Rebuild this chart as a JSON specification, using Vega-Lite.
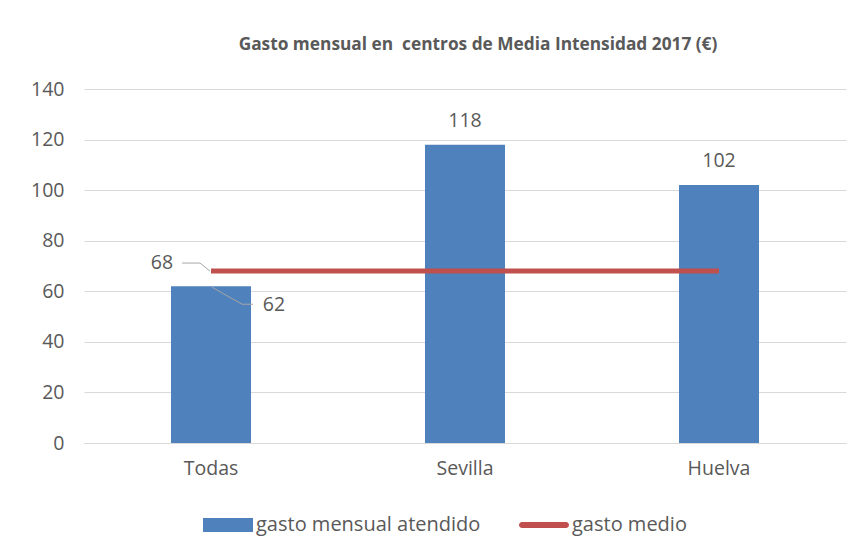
{
  "$schema": "https://vega.github.io/schema/vega-lite/v6.json",
  "autosize": "none",
  "width": 762,
  "height": 354,
  "padding": {"left": 84, "top": 89, "right": 17, "bottom": 111},
  "background": "white",
  "title": {
    "text": "Gasto mensual en \u00a0centros de Media Intensidad 2017 (€)",
    "font": "Open Sans",
    "fontSize": 17.3,
    "fontWeight": "bold",
    "color": "#595959",
    "anchor": "middle",
    "offset": 26,
    "dx": 13
  },
  "config": {
    "view": {"stroke": null},
    "font": "Open Sans",
    "axis": {
      "labelFont": "Open Sans",
      "labelFontSize": 19.5,
      "labelColor": "#595959",
      "gridColor": "#D9D9D9",
      "gridWidth": 1,
      "domain": false,
      "ticks": false,
      "title": null
    },
    "legend": {
      "labelFont": "Open Sans",
      "labelFontSize": 20,
      "labelColor": "#595959",
      "labelLimit": 0
    }
  },
  "data": {
    "values": [
      {"cat": "Todas", "gasto": 62, "medio": 68},
      {"cat": "Sevilla", "gasto": 118, "medio": 68},
      {"cat": "Huelva", "gasto": 102, "medio": 68}
    ]
  },
  "encoding": {
    "x": {
      "field": "cat",
      "type": "nominal",
      "sort": ["Todas", "Sevilla", "Huelva"],
      "scale": {"paddingInner": 0.685, "paddingOuter": 0.3425},
      "axis": {"labelAngle": 0, "labelPadding": 16, "grid": false, "domain": true, "domainColor": "#D9D9D9", "domainWidth": 1}
    }
  },
  "layer": [
    {
      "mark": {"type": "bar"},
      "encoding": {
        "y": {
          "field": "gasto",
          "type": "quantitative",
          "scale": {"domain": [0, 140], "nice": false},
          "axis": {"values": [0, 20, 40, 60, 80, 100, 120, 140], "labelPadding": 20, "grid": true}
        },
        "color": {
          "datum": "gasto mensual atendido",
          "type": "nominal",
          "scale": {"domain": ["gasto mensual atendido", "gasto medio"], "range": ["#4F81BD", "#C0504D"]},
          "legend": {
            "orient": "none",
            "legendX": 119,
            "legendY": 411,
            "direction": "horizontal",
            "title": null,
            "padding": 0,
            "symbolSize": 2500,
            "symbolStrokeWidth": 0,
            "labelOffset": 3,
            "columnPadding": 38,
            "symbolType": "M-1,-0.28H1V0.28H-1Z",
            "encode": {
              "symbols": {
                "update": {
                  "shape": {"signal": "datum.value === 'gasto medio' ? 'M-0.88,-0.12H0.88A0.12,0.12,0,0,1,0.88,0.12H-0.88A0.12,0.12,0,0,1,-0.88,-0.12Z' : 'M-1,-0.28H1V0.28H-1Z'"},
                  "fill": {"signal": "datum.value === 'gasto medio' ? '#C0504D' : '#4F81BD'"},
                  "stroke": {"value": "transparent"},
                  "opacity": {"value": 1},
                  "fillOpacity": {"value": 1}
                }
              }
            }
          }
        }
      }
    },
    {
      "mark": {"type": "line", "strokeWidth": 5},
      "encoding": {
        "y": {"field": "medio", "type": "quantitative"},
        "color": {"datum": "gasto medio", "type": "nominal"}
      }
    },
    {
      "transform": [{"filter": "datum.cat !== 'Todas'"}],
      "mark": {"type": "text", "baseline": "middle", "dy": -24, "fontSize": 19.5, "color": "#595959"},
      "encoding": {
        "y": {"field": "gasto", "type": "quantitative"},
        "text": {"field": "gasto", "type": "quantitative"}
      }
    },
    {
      "transform": [{"filter": "datum.cat === 'Todas'"}],
      "mark": {"type": "text", "baseline": "middle", "dx": 63, "dy": 19, "fontSize": 19.5, "color": "#595959"},
      "encoding": {
        "y": {"field": "gasto", "type": "quantitative"},
        "text": {"field": "gasto", "type": "quantitative"}
      }
    },
    {
      "transform": [{"filter": "datum.cat === 'Todas'"}],
      "mark": {"type": "text", "baseline": "middle", "dx": -49, "dy": -8, "fontSize": 19.5, "color": "#595959"},
      "encoding": {
        "y": {"field": "medio", "type": "quantitative"},
        "text": {"field": "medio", "type": "quantitative"}
      }
    },
    {
      "transform": [{"filter": "datum.cat === 'Todas'"}],
      "mark": {"type": "rule", "color": "#A6A6A6", "strokeWidth": 1, "xOffset": -1, "x2Offset": -11, "yOffset": 0, "y2Offset": -8},
      "encoding": {
        "x2": {"field": "cat"},
        "y": {"field": "medio", "type": "quantitative"},
        "y2": {"field": "medio"}
      }
    },
    {
      "transform": [{"filter": "datum.cat === 'Todas'"}],
      "mark": {"type": "rule", "color": "#A6A6A6", "strokeWidth": 1, "xOffset": -11, "x2Offset": -29, "yOffset": -8, "y2Offset": -8},
      "encoding": {
        "x2": {"field": "cat"},
        "y": {"field": "medio", "type": "quantitative"},
        "y2": {"field": "medio"}
      }
    },
    {
      "transform": [{"filter": "datum.cat === 'Todas'"}],
      "mark": {"type": "rule", "color": "#A6A6A6", "strokeWidth": 1, "xOffset": 1, "x2Offset": 31, "yOffset": 1, "y2Offset": 18},
      "encoding": {
        "x2": {"field": "cat"},
        "y": {"field": "gasto", "type": "quantitative"},
        "y2": {"field": "gasto"}
      }
    },
    {
      "transform": [{"filter": "datum.cat === 'Todas'"}],
      "mark": {"type": "rule", "color": "#A6A6A6", "strokeWidth": 1, "xOffset": 31, "x2Offset": 42, "yOffset": 18, "y2Offset": 18},
      "encoding": {
        "x2": {"field": "cat"},
        "y": {"field": "gasto", "type": "quantitative"},
        "y2": {"field": "gasto"}
      }
    }
  ]
}
